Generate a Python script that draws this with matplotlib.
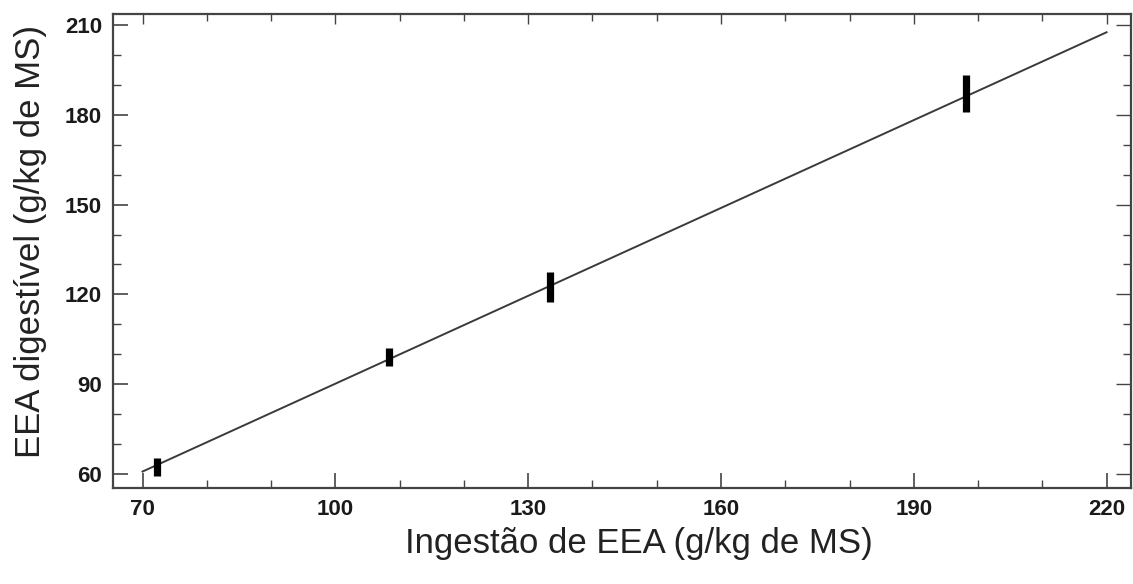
import matplotlib
matplotlib.use("Agg")
import matplotlib.pyplot as plt
from matplotlib.ticker import MultipleLocator

# Data
x_points = [72.3, 108.4, 133.4, 198.2]
y_low = [59.4, 96.1, 117.6, 181.0]
y_high = [65.2, 102.0, 127.6, 193.3]

x_line = [70, 220]
y_line = [60.8, 207.6]

x_ticks = [70, 100, 130, 160, 190, 220]
y_ticks = [60, 90, 120, 150, 180, 210]

plt.rcParams['font.family'] = ['Liberation Sans', 'DejaVu Sans']

fig = plt.figure(figsize=(11.33, 5.84), dpi=100)
L, R, T, B = 113, 1131, 14, 487.7
W, H = 1133, 584
ax = fig.add_axes([L / W, 1 - B / H, (R - L) / W, (B - T) / H])

ax.plot(x_line, y_line, color='#3a3a3a', lw=1.4)
ax.vlines(x_points, y_low, y_high, color='black', lw=5.2, capstyle='butt')

ax.set_xlim(65.4, 223.8)
ax.set_ylim(55.4, 213.7)
ax.set_xticks(x_ticks)
ax.set_yticks(y_ticks)
ax.xaxis.set_minor_locator(MultipleLocator(10))
ax.yaxis.set_minor_locator(MultipleLocator(10))

for lab in ax.get_xticklabels() + ax.get_yticklabels():
    lab.set_fontweight('bold')
ax.tick_params(which='major', direction='in', length=11, width=1.2,
               color='#444444', labelsize=16, pad=8, labelcolor='#1a1a1a')
ax.tick_params(which='minor', direction='in', length=6, width=1.0, color='#444444')
ax.tick_params(which='both', top=False, right=False)

sx = ax.secondary_xaxis('top')
sx.set_xticks(x_ticks)
sx.xaxis.set_minor_locator(MultipleLocator(10))
sx.tick_params(which='major', direction='in', length=7, width=1.0, color='#444444', labeltop=False)
sx.tick_params(which='minor', direction='in', length=5, width=1.0, color='#444444')
sx.spines['top'].set_visible(False)

sy = ax.secondary_yaxis('right')
sy.set_yticks(y_ticks)
sy.yaxis.set_minor_locator(MultipleLocator(10))
sy.tick_params(which='major', direction='in', length=11, width=1.0, color='#444444', labelright=False)
sy.tick_params(which='minor', direction='in', length=6, width=1.0, color='#444444')
sy.spines['right'].set_visible(False)

for s in ax.spines.values():
    s.set_linewidth(1.6)
    s.set_color('#444444')

ax.set_xlabel('Ingestão de EEA (g/kg de MS)', fontsize=25, color='#222222')
ax.set_ylabel('EEA digestível (g/kg de MS)', fontsize=25, color='#222222')
ax.xaxis.set_label_coords(0.5167, -0.082)
ax.xaxis.label.set_va('top')
ax.yaxis.set_label_coords(-0.0648, 0.519)

fig.savefig('out.png', dpi=100)
